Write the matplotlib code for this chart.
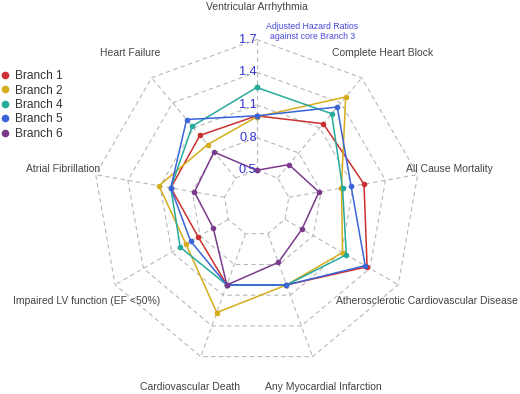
import numpy as np
import matplotlib
matplotlib.use("Agg")
import matplotlib.pyplot as plt
from matplotlib.lines import Line2D

plt.rcParams['font.family'] = ['Liberation Sans', 'DejaVu Sans']

# axes, clockwise from the top
categories = [
    "Ventricular Arrhythmia",
    "Complete Heart Block",
    "All Cause Mortality",
    "Atherosclerotic Cardiovascular Disease",
    "Any Myocardial Infarction",
    "Cardiovascular Death",
    "Impaired LV function (EF <50%)",
    "Atrial Fibrillation",
    "Heart Failure",
]

branch_names = ["Branch 1", "Branch 2", "Branch 4", "Branch 5", "Branch 6"]
branch_1 = [1.00, 1.15, 1.20, 1.37, 1.00, 1.00, 0.82, 1.00, 1.01]
branch_2 = [0.99, 1.47, 0.99, 1.11, 1.00, 1.27, 0.95, 1.11, 0.90]
branch_4 = [1.26, 1.27, 1.00, 1.15, 1.00, 1.00, 1.01, 1.00, 1.12]
branch_5 = [1.00, 1.35, 1.08, 1.35, 1.00, 1.00, 0.90, 1.00, 1.20]
branch_6 = [0.50, 0.66, 0.78, 0.68, 0.78, 1.00, 0.66, 0.78, 0.81]
branch_colors = ["#cc3030", "#d4ac1c", "#26aa9c", "#3a64d8", "#7c3a8c"]

radial_ticks = [0.5, 0.8, 1.1, 1.4, 1.7]

series = [branch_1, branch_2, branch_4, branch_5, branch_6]

fig = plt.figure(figsize=(5.2, 3.94), dpi=100)
ax = fig.add_axes([0.1792, 0.0698, 0.6288, 0.8299], projection='polar')
ax.set_theta_offset(np.pi / 2)
ax.set_theta_direction(-1)
ax.set_rorigin(0.2)
ax.set_rlim(0.5, 1.7)
ax.axis('off')

n = len(categories)
theta = np.arange(n) * 2 * np.pi / n
theta_closed = np.append(theta, theta[0])

# dashed polygon grid, like the web chart
grid_kw = dict(color='#b8b8b8', lw=0.8, ls=(0, (4, 3)), zorder=1, clip_on=False)
for rv in radial_ticks:
    ax.plot(theta_closed, [rv] * (n + 1), **grid_kw)
for th in theta:
    ax.plot([th, th], [radial_ticks[0], radial_ticks[-1]], **grid_kw)

for name, vals, col in zip(branch_names, series, branch_colors):
    v = np.append(vals, vals[0])
    ax.plot(theta_closed, v, color=col, lw=1.1, marker='o', ms=3,
            zorder=3, clip_on=False, label=name)

for rv in radial_ticks:
    ax.text(0, rv, f"{rv}", ha='right', va='center', color='#3434d0',
            fontsize=9.2, zorder=4)

for th, lab in zip(theta, categories):
    ax.text(th, 2.0, lab, ha='center', va='center', color='#444444',
            fontsize=7.5, clip_on=False)

fig.text(0.601, 0.92, "Adjusted Hazard Ratios\nagainst core Branch 3",
         ha='center', va='center', color='#4848d8', fontsize=6.3,
         linespacing=1.15)

handles = [Line2D([], [], marker='o', ls='none', color=c, ms=4.5)
           for c in branch_colors]
fig.legend(handles, branch_names, loc='upper left', bbox_to_anchor=(0.0, 0.822),
           frameon=False, fontsize=8.6, handlelength=0.8, handletextpad=0.45,
           labelspacing=0.2, borderaxespad=0, borderpad=0, labelcolor='#333333')

fig.savefig("out.png", dpi=100)
